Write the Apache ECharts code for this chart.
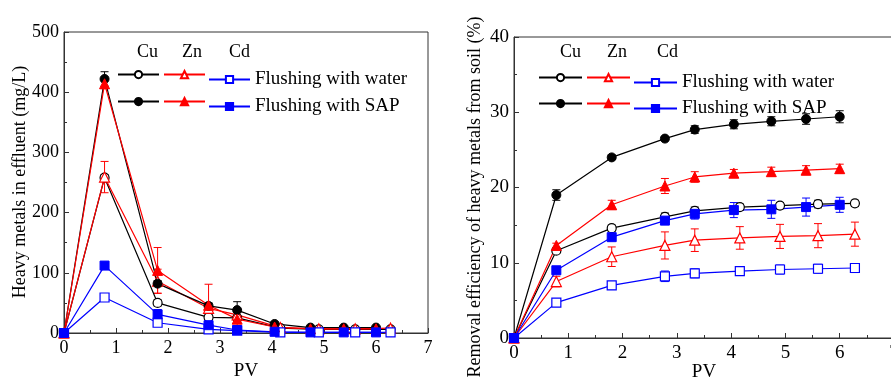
<!DOCTYPE html>
<html>
<head>
<meta charset="utf-8">
<script src="https://cdn.jsdelivr.net/npm/echarts@6/dist/echarts.min.js"></script>
<style>
  html, body { margin: 0; padding: 0; background: #fff; }
  #chart { width: 891px; height: 380px; }
</style>
</head>
<body>
<div id="chart"></div>
<script>
// PV positions of the samples (SAP runs and water runs were sampled a bit differently)
const pvSAP = [0, 0.78, 1.8, 2.78, 3.33, 4.05, 4.74, 5.38, 6.0]
const pvWater = [0, 0.78, 1.8, 2.78, 3.33, 4.16, 4.9, 5.6, 6.28]

// left panel: heavy metals in effluent (mg/L)
const effCuWater = [0, 258, 50, 26, 25, 8, 6, 6, 6]
const effZnWater = [0, 259, 86, 41, 30, 9, 7, 7, 8]
const effCdWater = [0, 59, 17, 6, 4, 1, 1, 1, 1]
const effCuSAP = [0, 422, 82, 45, 38, 15, 9, 9, 9]
const effZnSAP = [0, 414, 104, 46, 23, 10, 7, 7, 7]
const effCdSAP = [0, 112, 31, 13, 5, 2, 1, 1, 1]
const effErrCuWater = [0, 5, 5, 4, 4, 1, 1, 1, 1]
const effErrZnWater = [0, 26, 20, 8, 10, 2, 2, 2, 2]
const effErrCdWater = [0, 3, 6, 3, 2, 1, 1, 1, 1]
const effErrCuSAP = [0, 12, 5, 5, 14, 3, 2, 2, 2]
const effErrZnSAP = [0, 8, 38, 35, 12, 2, 2, 2, 2]
const effErrCdSAP = [0, 4, 8, 3, 2, 1, 1, 1, 1]

// right panel: removal efficiency (%)
const remCuWater = [0, 11.6, 14.6, 16.1, 16.9, 17.4, 17.6, 17.8, 17.9]
const remZnWater = [0, 7.5, 10.8, 12.3, 13.0, 13.3, 13.5, 13.6, 13.8]
const remCdWater = [0, 4.7, 7.0, 8.2, 8.6, 8.9, 9.1, 9.2, 9.3]
const remCuSAP = [0, 19.0, 24.0, 26.5, 27.7, 28.4, 28.8, 29.1, 29.4]
const remZnSAP = [0, 12.3, 17.7, 20.2, 21.4, 21.9, 22.1, 22.3, 22.5]
const remCdSAP = [0, 9.0, 13.4, 15.6, 16.5, 17.0, 17.1, 17.4, 17.7]
const remErrCuWater = [0, 0.3, 0.4, 0.5, 0.5, 0.4, 0.4, 0.5, 0.4]
const remErrZnWater = [0, 0.7, 1.3, 1.8, 1.5, 1.5, 1.6, 1.6, 1.6]
const remErrCdWater = [0, 0.3, 0.5, 0.7, 0.6, 0.5, 0.6, 0.6, 0.6]
const remErrCuSAP = [0, 0.7, 0.3, 0.3, 0.5, 0.6, 0.6, 0.7, 0.8]
const remErrZnSAP = [0, 0.3, 0.6, 1.0, 0.7, 0.5, 0.6, 0.6, 0.6]
const remErrCdSAP = [0, 0.4, 0.3, 0.4, 0.7, 1.0, 1.2, 1.2, 1.0]

const metals = ['Cu', 'Zn', 'Cd']
const FONT = 'Liberation Serif'
const COLORS = { Cu: '#000000', Zn: '#ff0000', Cd: '#0000ff' }
const SYMBOLS = { Cu: 'circle', Zn: 'triangle', Cd: 'rect' }

function lineSeries(panel, metal, kind, xs, ys) {
  const c = COLORS[metal]
  return {
    name: panel + metal + kind,
    type: 'line',
    xAxisIndex: panel === 'L' ? 0 : 1,
    yAxisIndex: panel === 'L' ? 0 : 1,
    data: xs.map((x, i) => [x, ys[i]]),
    symbol: SYMBOLS[metal],
    symbolSize: metal === 'Zn' ? 10 : 9,
    z: 3,
    lineStyle: { color: c, width: 1.2 },
    itemStyle: kind === 'water'
      ? { color: '#fff', borderColor: c, borderWidth: 1.2 }
      : { color: c, borderColor: c, borderWidth: 1 },
  }
}

function errSeries(panel, metal, xs, ys, es) {
  const c = COLORS[metal]
  return {
    type: 'custom',
    xAxisIndex: panel === 'L' ? 0 : 1,
    yAxisIndex: panel === 'L' ? 0 : 1,
    silent: true,
    z: 2,
    data: xs.map((x, i) => [x, ys[i] - es[i], ys[i] + es[i]]).filter((d, i) => es[i] > 0),
    renderItem(params, api) {
      const lo = api.coord([api.value(0), api.value(1)])
      const hi = api.coord([api.value(0), api.value(2)])
      const w = 4
      const st = { stroke: c, lineWidth: 1 }
      return {
        type: 'group',
        children: [
          { type: 'line', shape: { x1: lo[0], y1: lo[1], x2: hi[0], y2: hi[1] }, style: st },
          { type: 'line', shape: { x1: lo[0] - w, y1: lo[1], x2: lo[0] + w, y2: lo[1] }, style: st },
          { type: 'line', shape: { x1: hi[0] - w, y1: hi[1], x2: hi[0] + w, y2: hi[1] }, style: st },
        ],
      }
    },
  }
}

const leftSets = {
  water: { xs: pvWater, Cu: [effCuWater, effErrCuWater], Zn: [effZnWater, effErrZnWater], Cd: [effCdWater, effErrCdWater] },
  SAP: { xs: pvSAP, Cu: [effCuSAP, effErrCuSAP], Zn: [effZnSAP, effErrZnSAP], Cd: [effCdSAP, effErrCdSAP] },
}
const rightSets = {
  water: { xs: pvWater, Cu: [remCuWater, remErrCuWater], Zn: [remZnWater, remErrZnWater], Cd: [remCdWater, remErrCdWater] },
  SAP: { xs: pvSAP, Cu: [remCuSAP, remErrCuSAP], Zn: [remZnSAP, remErrZnSAP], Cd: [remCdSAP, remErrCdSAP] },
}

const series = []
for (const [panel, sets] of [['L', leftSets], ['R', rightSets]]) {
  for (const kind of ['water', 'SAP']) {
    for (const m of metals) {
      const [ys, es] = sets[kind][m]
      series.push(errSeries(panel, m, sets[kind].xs, ys, es))
      series.push(lineSeries(panel, m, kind, sets[kind].xs, ys))
    }
  }
}

// legend: one component per marker so the three swatches line up under Cu / Zn / Cd
function legendRow(panel, kind, lefts, top, w) {
  return metals.map((m, i) => ({
    data: [panel + m + kind],
    left: lefts[i],
    top: top,
    padding: 0,
    itemWidth: w,
    itemHeight: 9,
    selectedMode: false,
    formatter: () => (m === 'Cd' ? (kind === 'water' ? 'Flushing with water' : 'Flushing with SAP') : ''),
    textStyle: { fontFamily: FONT, fontSize: 19, color: '#000' },
  }))
}

const legend = [
  ...legendRow('L', 'water', [117, 163, 208], 70, 41),
  ...legendRow('L', 'SAP', [117, 163, 208], 97, 41),
  ...legendRow('R', 'water', [538, 586, 633], 73, 43),
  ...legendRow('R', 'SAP', [538, 586, 633], 99, 43),
]

function header(text, x, y) {
  return {
    type: 'text', left: x, top: y,
    style: { text, font: '18px "Liberation Serif"', fill: '#000', textAlign: 'center' },
  }
}

function yTitle(text, x, y, size) {
  return {
    type: 'text', x, y, rotation: Math.PI / 2,
    style: {
      text, font: size + 'px "Liberation Serif"', fill: '#000',
      textAlign: 'center', textVerticalAlign: 'middle',
    },
  }
}

function xAxisCfg(grid, nameGap, fs) {
  return {
    gridIndex: grid,
    type: 'value', min: 0, max: 7, interval: 1,
    name: 'PV', nameLocation: 'middle', nameGap, nameMoveOverlap: false,
    nameTextStyle: { fontFamily: FONT, fontSize: 19, color: '#000' },
    axisLine: { lineStyle: { color: '#333', width: 1 } },
    axisTick: { inside: true, length: 5, lineStyle: { color: '#333' } },
    minorTick: { show: true, splitNumber: 2, length: 3, lineStyle: { color: '#333' } },
    axisLabel: { fontFamily: FONT, fontSize: fs, color: '#000', margin: 6 },
    splitLine: { show: false },
  }
}

function yAxisCfg(grid, max, interval, fs) {
  return {
    gridIndex: grid,
    type: 'value', min: 0, max, interval,
    axisLine: { show: true, lineStyle: { color: '#333', width: 1 } },
    axisTick: { show: true, inside: true, length: 5, lineStyle: { color: '#333' } },
    minorTick: { show: true, splitNumber: 2, length: 3, lineStyle: { color: '#333' } },
    axisLabel: { fontFamily: FONT, fontSize: fs, color: '#000', margin: 5 },
    splitLine: { show: false },
  }
}

const chart = echarts.init(document.getElementById('chart'), null, { renderer: 'canvas' })
chart.setOption({
  animation: false,
  backgroundColor: '#fff',
  grid: [
    { left: 64, right: 463, top: 32, bottom: 47, show: true, borderColor: '#333', borderWidth: 1, outerBoundsMode: 'none' },
    { left: 514, width: 380, top: 37, bottom: 42, show: true, borderColor: '#333', borderWidth: 1, outerBoundsMode: 'none' },
  ],
  xAxis: [xAxisCfg(0, 29, 18), xAxisCfg(1, 25, 19)],
  yAxis: [yAxisCfg(0, 500, 100, 18), yAxisCfg(1, 40, 10, 19)],
  legend,
  graphic: [
    header('Cu', 137, 43), header('Zn', 182, 43), header('Cd', 229, 43),
    header('Cu', 560, 43), header('Zn', 607, 43), header('Cd', 657, 43),
    yTitle('Heavy metals in effluent (mg/L)', 20, 182, 18),
    yTitle('Removal efficiency of heavy metals from soil (%)', 475, 197, 18),
  ],
  series,
})
</script>
</body>
</html>
